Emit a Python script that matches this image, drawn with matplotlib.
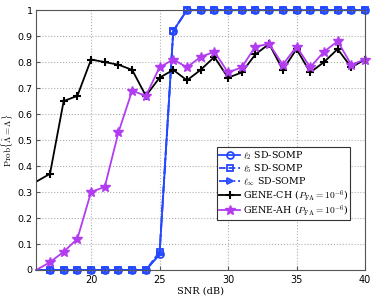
import matplotlib
matplotlib.use("Agg")
import matplotlib.pyplot as plt
import numpy as np

plt.rcParams['mathtext.fontset'] = 'cm'
plt.rcParams['font.family'] = 'DejaVu Sans'

# data
snr = list(range(16, 41))
l2 = [0, 0, 0, 0, 0, 0, 0, 0, 0, 0.06, 0.92] + [1.0] * 14
l5 = [0, 0, 0, 0, 0, 0, 0, 0, 0, 0.07, 0.92] + [1.0] * 14
linf = [0, 0, 0, 0, 0, 0, 0, 0, 0, 0.06, 0.92] + [1.0] * 14
gene_ch = [0.34, 0.37, 0.65, 0.67, 0.81, 0.80, 0.79, 0.77, 0.67, 0.74, 0.77, 0.73, 0.77,
           0.82, 0.74, 0.76, 0.83, 0.87, 0.77, 0.85, 0.76, 0.80, 0.85, 0.78, 0.81]
gene_ah = [0.0, 0.03, 0.07, 0.12, 0.30, 0.32, 0.53, 0.69, 0.67, 0.78, 0.81, 0.78, 0.82,
           0.84, 0.76, 0.78, 0.86, 0.87, 0.79, 0.86, 0.78, 0.84, 0.88, 0.79, 0.81]

blue = '#2448ff'
purple = '#b23cf0'
mk = list(range(1, len(snr)))  # first point sits on the axis edge, no marker there

fig = plt.figure(figsize=(3.74, 2.98), dpi=100)
ax = fig.add_axes([0.097, 0.094, 0.879, 0.872])

ax.plot(snr, l2, '-o', color=blue, lw=1.3, ms=5, mfc='none', mew=1.3, markevery=mk,
        label=r'$\ell_2$ SD-SOMP', clip_on=False)
ax.plot(snr, l5, '--s', color=blue, lw=1.3, ms=4, mfc='none', mew=1.3, markevery=mk,
        label=r'$\ell_5$ SD-SOMP', clip_on=False)
ax.plot(snr, linf, '-.>', color=blue, lw=1.3, ms=5, mfc='none', mew=1.3, markevery=mk,
        label=r'$\ell_\infty$ SD-SOMP', clip_on=False)
ax.plot(snr, gene_ch, '-+', color='black', lw=1.3, ms=6, mew=1.5, markevery=mk,
        label=r'GENE-CH ($P_{\mathrm{FA}}=10^{-6}$)')
ax.plot(snr, gene_ah, '-*', color=purple, lw=1.3, ms=7, markevery=mk,
        label=r'GENE-AH ($P_{\mathrm{FA}}=10^{-6}$)', clip_on=False)

ax.set_xlim(16, 40)
ax.set_ylim(0, 1)
ax.set_xticks([20, 25, 30, 35, 40])
ax.set_yticks(np.arange(0, 1.01, 0.1))
ax.set_yticklabels(['0', '0.1', '0.2', '0.3', '0.4', '0.5', '0.6', '0.7', '0.8', '0.9', '1'])
ax.tick_params(direction='in', labelsize=7, length=3, color='#555555')
ax.tick_params(axis='y', pad=2.5, labelsize=6.8)
ax.grid(True, linestyle=':', color='#b0b0b0', lw=0.8)
for s in ax.spines.values():
    s.set_color('#555555')

ax.set_xlabel('SNR (dB)', family='DejaVu Serif', fontsize=7, labelpad=1)
ax.set_ylabel(r'$\mathrm{Prob}\{\hat{\Lambda}=\Lambda\}$', fontsize=6.5)
ax.yaxis.set_label_coords(-0.062, 0.5)

leg = ax.legend(loc='lower right', bbox_to_anchor=(0.97, 0.175),
                prop={'family': 'DejaVu Serif', 'size': 6.8},
                fancybox=False, edgecolor='#333333', framealpha=1,
                handlelength=2.2, borderpad=0.2, labelspacing=0.05, handletextpad=0.3)
leg.get_frame().set_linewidth(0.8)

fig.savefig('out.png', dpi=100)
